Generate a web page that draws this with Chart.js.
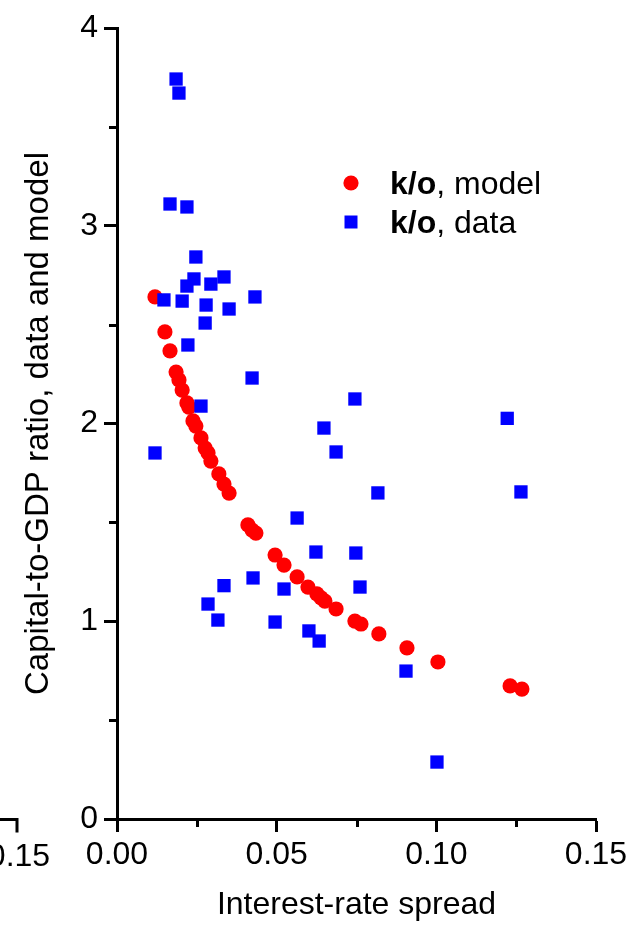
<!DOCTYPE html>
<html>
<head>
<meta charset="utf-8">
<script src="https://cdn.jsdelivr.net/npm/chart.js@4.4.1/dist/chart.umd.min.js"></script>
<style>
  body { margin: 0; background: #fff; }
  canvas { display: block; }
</style>
</head>
<body>
<canvas id="kchart" width="637" height="930"></canvas>
<script>
// capital-to-GDP ratio against the interest-rate spread

const modelSpread = [
  0.0119, 0.0150, 0.0166, 0.0185, 0.0194, 0.0204, 0.0219, 0.0225, 0.0238,
  0.0247, 0.0263, 0.0276, 0.0285, 0.0294, 0.0319, 0.0335, 0.0351, 0.0410,
  0.0423, 0.0435, 0.0495, 0.0523, 0.0564, 0.0598, 0.0626, 0.0639, 0.0651,
  0.0686, 0.0745, 0.0764, 0.0820, 0.0908, 0.1005, 0.1231, 0.1268,
]
const modelKO = [
  2.640, 2.463, 2.367, 2.260, 2.220, 2.169, 2.104, 2.083, 2.013,
  1.987, 1.927, 1.876, 1.851, 1.810, 1.745, 1.694, 1.648, 1.487,
  1.461, 1.446, 1.335, 1.284, 1.224, 1.173, 1.138, 1.118, 1.102,
  1.062, 1.001, 0.986, 0.936, 0.865, 0.794, 0.673, 0.657,
]

const dataSpread = [
  0.0185, 0.0194, 0.0166, 0.0219, 0.0247, 0.0241, 0.0219, 0.0294, 0.0335,
  0.0147, 0.0204, 0.0279, 0.0351, 0.0432, 0.0276, 0.0222, 0.0423, 0.0263,
  0.0745, 0.0648, 0.0686, 0.0119, 0.0817, 0.1222, 0.1265, 0.0564, 0.0623,
  0.0748, 0.0335, 0.0426, 0.0523, 0.0761, 0.0285, 0.0316, 0.0495, 0.0601,
  0.0633, 0.0905, 0.1002,
]
const dataKO = [
  3.742, 3.671, 3.110, 3.095, 2.842, 2.731, 2.695, 2.705, 2.741,
  2.625, 2.619, 2.599, 2.579, 2.640, 2.508, 2.397, 2.230, 2.088,
  2.124, 1.977, 1.856, 1.851, 1.649, 2.026, 1.654, 1.522, 1.350,
  1.345, 1.180, 1.219, 1.163, 1.173, 1.087, 1.006, 0.996, 0.951,
  0.900, 0.748, 0.288,
]

const xTickLabels = ['0.00', '0.05', '0.10', '0.15']
const yTickLabels = ['0', '1', '2', '3', '4']
const ratioName = 'k/o'
const seriesNames = [', model', ', data']

const FONT = "'Liberation Sans', Arial, sans-serif"

const toPoints = (xs, ys) => xs.map((x, i) => ({ x: x, y: ys[i] }))

// short unlabelled ticks between the labelled ones
const minorTicks = {
  id: 'minorTicks',
  afterDraw(chart) {
    const ctx = chart.ctx
    const xs = chart.scales.x
    const ys = chart.scales.y
    ctx.save()
    ctx.strokeStyle = '#000'
    ctx.lineWidth = 3
    ctx.beginPath()
    ys.ticks.forEach((t, i) => {
      if (i % 2 === 0) return
      const py = Math.round(ys.getPixelForValue(t.value)) + 0.5
      ctx.moveTo(ys.right, py)
      ctx.lineTo(ys.right - 8, py)
    })
    xs.ticks.forEach((t, i) => {
      if (i % 2 === 0) return
      const px = Math.round(xs.getPixelForValue(t.value)) + 0.5
      ctx.moveTo(px, xs.top)
      ctx.lineTo(px, xs.top + 8)
    })
    ctx.stroke()
    ctx.restore()
  },
}

// edge of the neighbouring panel's x axis, cut at the left border
const neighbourEdge = {
  id: 'neighbourEdge',
  afterDraw(chart) {
    const ctx = chart.ctx
    const yAxis = Math.round(chart.scales.x.top) + 0.5
    ctx.save()
    ctx.strokeStyle = '#000'
    ctx.lineWidth = 3
    ctx.beginPath()
    ctx.moveTo(0, yAxis)
    ctx.lineTo(17, yAxis)
    ctx.lineTo(17, yAxis + 13)
    ctx.stroke()
    ctx.fillStyle = '#000'
    ctx.font = '32px ' + FONT
    ctx.textAlign = 'center'
    ctx.textBaseline = 'alphabetic'
    ctx.fillText(xTickLabels[3], 19, 866)
    ctx.restore()
  },
}

// legend: bold ratio name followed by the series name
const koLegend = {
  id: 'koLegend',
  afterDraw(chart) {
    const ctx = chart.ctx
    const rows = [
      { cy: 183, base: 194, color: '#ff0000', shape: 'circle', name: seriesNames[0] },
      { cy: 222, base: 233, color: '#0000ff', shape: 'square', name: seriesNames[1] },
    ]
    ctx.save()
    rows.forEach((r) => {
      ctx.fillStyle = r.color
      ctx.beginPath()
      if (r.shape === 'circle') {
        ctx.arc(351, r.cy, 7.6, 0, Math.PI * 2)
      } else {
        ctx.rect(344.5, r.cy - 6.5, 13, 13)
      }
      ctx.fill()
      ctx.fillStyle = '#000'
      ctx.textAlign = 'left'
      ctx.textBaseline = 'alphabetic'
      ctx.font = 'bold 32px ' + FONT
      ctx.fillText(ratioName, 390, r.base)
      const w = ctx.measureText(ratioName).width
      ctx.font = '32px ' + FONT
      ctx.fillText(r.name, 390 + w, r.base)
    })
    ctx.restore()
  },
}

const axisTicks = {
  color: '#000',
  font: { family: FONT, size: 32 },
  maxRotation: 0,
  autoSkip: false,
}

const plotChart = () => {
  const ctx = document.getElementById('kchart').getContext('2d')
  return new Chart(ctx, {
    type: 'scatter',
    data: {
      datasets: [
        {
          label: ratioName + seriesNames[0],
          data: toPoints(modelSpread, modelKO),
          pointStyle: 'circle',
          radius: 7.6,
          backgroundColor: '#ff0000',
          borderColor: '#ff0000',
          borderWidth: 0,
          order: 2,
        },
        {
          label: ratioName + seriesNames[1],
          data: toPoints(dataSpread, dataKO),
          pointStyle: 'rect',
          radius: 9.4,
          backgroundColor: '#0000ff',
          borderColor: '#0000ff',
          borderWidth: 0,
          order: 1,
        },
      ],
    },
    options: {
      responsive: false,
      animation: false,
      events: [],
      layout: { padding: { left: 0, top: 28, right: 41, bottom: 0 } },
      scales: {
        x: {
          type: 'linear',
          min: 0,
          max: 0.15,
          afterFit: (s) => { s.height = 111 },
          border: { display: true, color: '#000', width: 3 },
          grid: {
            drawOnChartArea: false,
            drawTicks: true,
            tickLength: 13,
            tickWidth: 3,
            tickColor: (c) => (c.index % 2 === 0 ? '#000' : 'rgba(0,0,0,0)'),
          },
          ticks: {
            ...axisTicks,
            stepSize: 0.025,
            padding: 4,
            callback: (v, i) => (i % 2 === 0 ? xTickLabels[i / 2] : ''),
          },
          title: {
            display: true,
            text: 'Interest-rate spread',
            color: '#000',
            font: { family: FONT, size: 32 },
            padding: { top: 0, bottom: 6 },
          },
        },
        y: {
          type: 'linear',
          min: 0,
          max: 4,
          afterFit: (s) => { s.width = 117 },
          border: { display: true, color: '#000', width: 3 },
          grid: {
            drawOnChartArea: false,
            drawTicks: true,
            tickLength: 13,
            tickWidth: 3,
            tickColor: (c) => (c.index % 2 === 0 ? '#000' : 'rgba(0,0,0,0)'),
          },
          ticks: {
            ...axisTicks,
            stepSize: 0.5,
            padding: 6,
            callback: (v, i) => (i % 2 === 0 ? yTickLabels[i / 2] : ''),
          },
          title: {
            display: true,
            text: 'Capital-to-GDP ratio, data and model',
            color: '#000',
            font: { family: FONT, size: 33 },
            padding: { top: 19, bottom: 0 },
          },
        },
      },
      plugins: {
        legend: { display: false },
        tooltip: { enabled: false },
      },
    },
    plugins: [minorTicks, neighbourEdge, koLegend],
  })
}

plotChart()
</script>
</body>
</html>
